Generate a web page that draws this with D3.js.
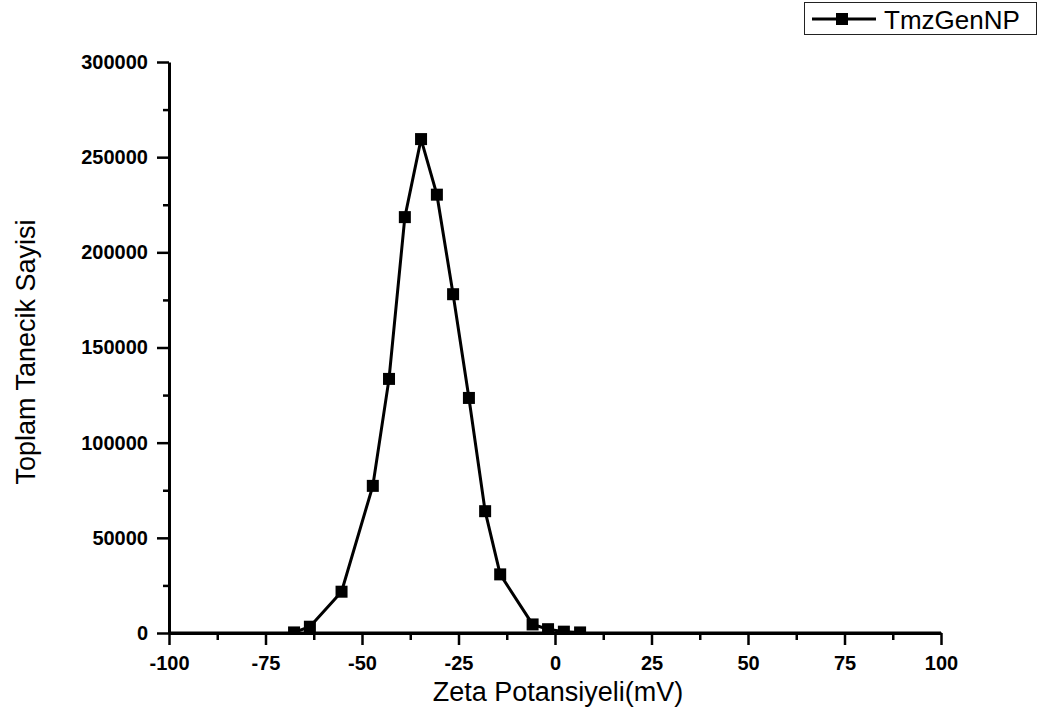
<!DOCTYPE html>
<html>
<head>
<meta charset="utf-8">
<script src="https://cdn.jsdelivr.net/npm/d3@7"></script>
<style>
  body { margin: 0; background: #fff; }
  svg { display: block; font-family: Arial, "Liberation Sans", sans-serif; }
</style>
</head>
<body>
<svg id="chart" width="1039" height="727"></svg>
<script>
// data
var zeta = [-67.6, -63.5, -55.3, -47.2, -43.0, -38.9, -34.7, -30.6, -26.4, -22.3, -18.1, -14.2, -5.8, -1.8, 2.3, 6.5];
var counts = [300, 3300, 21700, 77300, 133500, 218500, 259500, 230300, 178000, 123500, 64000, 30800, 4500, 2000, 700, 300];
var xTicks = [-100, -75, -50, -25, 0, 25, 50, 75, 100];
var yTicks = [0, 50000, 100000, 150000, 200000, 250000, 300000];
var seriesName = "TmzGenNP";

var margin = {left: 169, right: 98, top: 62, bottom: 94};
var W = 1039, H = 727;
var width = W - margin.left - margin.right;
var height = H - margin.top - margin.bottom;

var svg = d3.select("#chart");
var g = svg.append("g").attr("transform", "translate(" + margin.left + "," + margin.top + ")");

var xs = d3.scaleLinear().domain([-100, 100]).range([0, width]);
var ys = d3.scaleLinear().domain([0, 300000]).range([height, 0]);

var data = zeta.map(function(d, i) { return {x: d, y: counts[i]}; });

// plain labels with a normal hyphen, no thousands separator
var plain = function(d) { return String(d); };

// clip so markers don't poke below the axis
svg.append("defs").append("clipPath").attr("id", "clip")
  .append("rect").attr("x", -10).attr("y", -10).attr("width", width + 20).attr("height", height + 10);

// minor ticks (drawn first, under the axis)
var xMinor = d3.range(-87.5, 100, 25);
g.append("g").attr("transform", "translate(0," + height + ")")
  .call(d3.axisBottom(xs).tickValues(xMinor).tickSize(7).tickFormat(""))
  .call(function(s) { s.select(".domain").remove(); s.selectAll("line").attr("stroke-width", 2.5); });
var yMinor = d3.range(25000, 300000, 50000);
g.append("g")
  .call(d3.axisLeft(ys).tickValues(yMinor).tickSize(6).tickFormat(""))
  .call(function(s) { s.select(".domain").remove(); s.selectAll("line").attr("stroke-width", 2.5); });

// x axis
var gx = g.append("g").attr("transform", "translate(0," + height + ")")
  .call(d3.axisBottom(xs).tickValues(xTicks).tickSize(12).tickSizeOuter(0).tickPadding(11).tickFormat(plain));
gx.select(".domain").attr("stroke-width", 3);
gx.selectAll("line").attr("stroke-width", 2.5);
gx.selectAll("text").attr("font-size", "20px").attr("font-weight", "bold")
  .attr("font-family", "Arial, 'Liberation Sans', sans-serif").attr("fill", "#000");

// y axis
var gy = g.append("g")
  .call(d3.axisLeft(ys).tickValues(yTicks).tickSize(12).tickSizeOuter(0).tickPadding(9).tickFormat(plain));
gy.select(".domain").attr("stroke-width", 3);
gy.selectAll("line").attr("stroke-width", 2.5);
gy.selectAll("text").attr("font-size", "20px").attr("font-weight", "bold")
  .attr("font-family", "Arial, 'Liberation Sans', sans-serif").attr("fill", "#000");

// line + square markers
var plot = g.append("g").attr("clip-path", "url(#clip)");
plot.append("path")
  .datum(data)
  .attr("fill", "none")
  .attr("stroke", "#000")
  .attr("stroke-width", 3)
  .attr("d", d3.line().x(function(d) { return xs(d.x); }).y(function(d) { return ys(d.y); }));

var ms = 12;
plot.selectAll("rect.pt").data(data).enter().append("rect")
  .attr("class", "pt")
  .attr("x", function(d) { return xs(d.x) - ms / 2; })
  .attr("y", function(d) { return ys(d.y) - ms / 2; })
  .attr("width", ms).attr("height", ms)
  .attr("fill", "#000");

// redraw x axis line over clipped markers
g.append("line").attr("x1", 0).attr("x2", width).attr("y1", height).attr("y2", height)
  .attr("stroke", "#000").attr("stroke-width", 3);

// axis titles
svg.append("text")
  .attr("x", 558)
  .attr("y", 701)
  .attr("text-anchor", "middle")
  .attr("font-size", "27px")
  .text("Zeta Potansiyeli(mV)");

svg.append("text")
  .attr("transform", "translate(35,352) rotate(-90)")
  .attr("text-anchor", "middle")
  .attr("font-size", "27px")
  .text("Toplam Tanecik Sayisi");

// legend
var lg = svg.append("g");
lg.append("rect").attr("x", 804.5).attr("y", 2.5).attr("width", 232).attr("height", 32)
  .attr("fill", "#fff").attr("stroke", "#222").attr("stroke-width", 1);
lg.append("line").attr("x1", 812).attr("x2", 876).attr("y1", 19).attr("y2", 19)
  .attr("stroke", "#000").attr("stroke-width", 3);
lg.append("rect").attr("x", 842 - ms / 2).attr("y", 19 - ms / 2).attr("width", ms).attr("height", ms)
  .attr("fill", "#000");
lg.append("text").attr("x", 884).attr("y", 28.5).attr("font-size", "26px").text(seriesName);
</script>
</body>
</html>
